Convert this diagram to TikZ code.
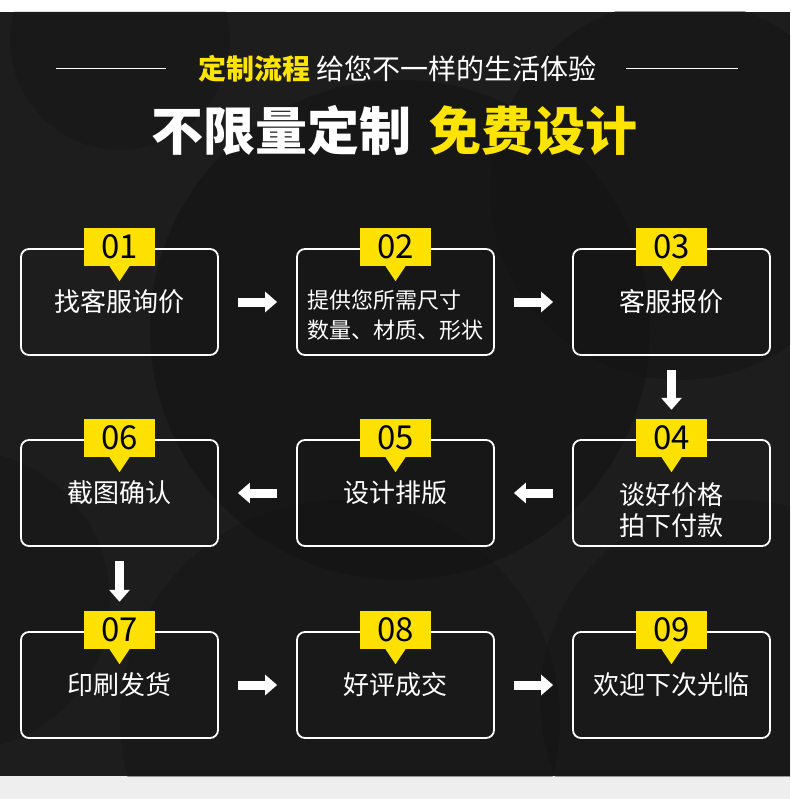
\documentclass[tikz,border=0pt]{standalone}
\usepackage{fontspec}
\newfontfamily\cjk{Noto Sans CJK SC}
\usetikzlibrary{arrows.meta,positioning}
\definecolor{pagedark}{HTML}{1D1D1D}
\definecolor{shadedark}{HTML}{131313}
\definecolor{badgeyellow}{HTML}{FFE100}
\definecolor{titleyellow}{HTML}{FFE400}
\definecolor{footgray}{HTML}{EEEEEE}

\begin{document}
\begin{tikzpicture}[x=1pt,y=-1pt]
\tikzset{
  stepframe/.style={draw=white,line width=1.8pt,rounded corners=8pt,minimum width=197pt,minimum height=106pt,inner sep=0pt},
  steplabel/.style={text=white,font=\cjk\fontsize{26}{31}\selectfont,align=center,inner sep=0pt},
  badge/.style={fill=badgeyellow,minimum width=71pt,minimum height=38pt,inner sep=0pt,text=black,font=\cjk\fontsize{33}{33}\selectfont},
  flowarrow/.style={draw=white,line width=9pt,-{Triangle[length=12pt,width=20pt]},shorten <=19pt,shorten >=19pt}
}
% page
\useasboundingbox (0,0) rectangle (790,799);
\fill[white] (0,0) rectangle (790,12);
\fill[pagedark] (0,12) rectangle (790,776);
\fill[footgray] (0,776) rectangle (790,799);
\begin{scope}
\clip (0,12) rectangle (790,776);
\fill[shadedark,opacity=0.55] (400,330) circle (250);
\fill[shadedark,opacity=0.45] (680,190) circle (190);
\fill[shadedark,opacity=0.4] (340,720) circle (220);
\fill[shadedark,opacity=0.4] (740,700) circle (200);
\fill[shadedark,opacity=0.35] (-40,600) circle (150);
\fill[black,opacity=0.12] (120,40) circle (110);
\end{scope}
% heading
\draw[white,line width=1pt] (56,69) -- (166,69);
\draw[white,line width=1pt] (626,69) -- (738,69);
\node[text=white,font=\cjk\fontsize{28}{28}\selectfont,inner sep=0pt] (subtitle) at (397,69)
  {{\bfseries\color{titleyellow}定制流程}\hspace{6pt}给您不一样的生活体验};
\node[text=white,font=\cjk\bfseries\fontsize{52}{52}\selectfont,inner sep=0pt] (title) at (394,131)
  {不限量定制\hspace{18pt}{\color{titleyellow}免费设计}};
% frames
\node[stepframe] (box01) at (119.5,302) {};
\node[stepframe] (box02) at (395.5,302) {};
\node[stepframe] (box03) at (671.5,302) {};
\node[stepframe] (box04) at (671.5,493) {};
\node[stepframe] (box05) at (395.5,493) {};
\node[stepframe] (box06) at (119.5,493) {};
\node[stepframe] (box07) at (119.5,685) {};
\node[stepframe] (box08) at (395.5,685) {};
\node[stepframe] (box09) at (671.5,685) {};
% texts
\node[steplabel] (txt01) at (119.5,302) {找客服询价};
\node[steplabel,align=left,font=\cjk\fontsize{22}{30}\selectfont] (txt02) at (395.5,315) {提供您所需尺寸\\数量、材质、形状};
\node[steplabel] (txt03) at (671.5,302) {客服报价};
\node[steplabel] (txt04) at (671.5,510) {谈好价格\\拍下付款};
\node[steplabel] (txt05) at (395.5,493) {设计排版};
\node[steplabel] (txt06) at (119.5,493) {截图确认};
\node[steplabel] (txt07) at (119.5,685) {印刷发货};
\node[steplabel] (txt08) at (395.5,685) {好评成交};
\node[steplabel] (txt09) at (671.5,685) {欢迎下次光临};
% badges
\node[badge] (badge01) at (119.5,247) {01};
\node[badge] (badge02) at (395.5,247) {02};
\node[badge] (badge03) at (671.5,247) {03};
\node[badge] (badge04) at (671.5,438) {04};
\node[badge] (badge05) at (395.5,438) {05};
\node[badge] (badge06) at (119.5,438) {06};
\node[badge] (badge07) at (119.5,630) {07};
\node[badge] (badge08) at (395.5,630) {08};
\node[badge] (badge09) at (671.5,630) {09};
\foreach \b in {badge01,badge02,badge03,badge04,badge05,badge06,badge07,badge08,badge09}
  \fill[badgeyellow] ([xshift=-10pt]\b.south) -- ([xshift=10pt]\b.south) -- ([yshift=-15pt]\b.south) -- cycle;
% arrows
\draw[flowarrow] (box01) -- (box02);
\draw[flowarrow] (box02) -- (box03);
\draw[flowarrow,shorten <=14pt,shorten >=9pt] (box03) -- (badge04);
\draw[flowarrow] (box04) -- (box05);
\draw[flowarrow] (box05) -- (box06);
\draw[flowarrow,shorten <=14pt,shorten >=9pt] (box06) -- (badge07);
\draw[flowarrow] (box07) -- (box08);
\draw[flowarrow] (box08) -- (box09);
\end{tikzpicture}
\end{document}
